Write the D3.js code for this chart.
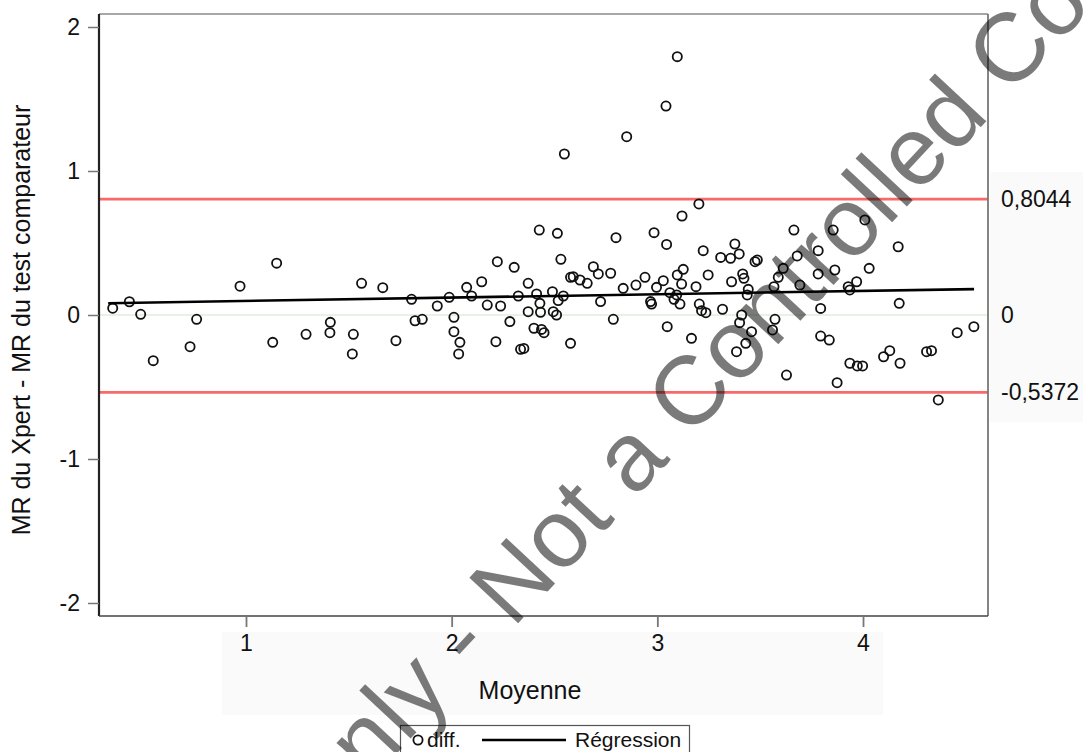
<!DOCTYPE html>
<html>
<head>
<meta charset="utf-8">
<script src="https://cdn.jsdelivr.net/npm/d3@7"></script>
<style>
  html, body { margin: 0; padding: 0; background: #fff; }
  svg { display: block; font-family: "Liberation Sans", Arial, sans-serif; }
</style>
</head>
<body>
<svg id="chart" width="1083" height="752"></svg>
<script>
// ---- Data ----
const meanVals = [
  0.352,0.433,0.488,0.549,0.728,0.760,0.971,1.13,1.149,1.292,
  1.41,1.408,1.522,1.517,1.562,1.665,1.729,
  1.805,1.822,1.857,1.93,1.988,2.011,2.011,2.040,2.034,2.073,
  2.097,2.146,2.173,2.238,2.215,2.283,2.324,2.372,2.372,2.413,
  2.429,2.432,2.40,2.437,2.449,2.335,2.351,2.49,2.518,2.543,
  2.494,2.51,2.578,2.724,2.786,2.834,2.896,2.967,2.972,2.996,
  3.048,3.094,3.097,3.042,2.851,2.548,2.426,2.514,2.799,2.984,
  3.045,3.12,2.531,2.222,2.304,2.578,2.591,2.624,2.659,2.689,
  2.713,2.773,2.94,3.029,3.097,
  3.202,3.664,3.855,4.009,4.171,3.223,3.308,3.356,3.377,3.398,
  3.475,3.486,3.68,3.782,3.126,3.118,3.188,3.247,3.361,3.415,
  3.421,3.442,3.437,3.567,3.588,3.612,3.693,3.782,3.863,4.03,
  3.928,3.936,3.969,3.061,3.081,3.11,3.204,3.215,3.236,3.317,
  3.41,3.40,3.572,3.794,4.176,3.56,3.166,3.458,3.43,3.385,
  3.628,3.794,3.836,3.874,3.936,3.972,3.998,4.10,4.13,4.18,
  4.309,4.333,4.366,4.458,4.539
];
const diffVals = [
  0.047,0.092,0.005,-0.317,-0.22,-0.03,0.20,-0.19,0.36,-0.134,
  -0.051,-0.123,-0.134,-0.27,0.22,0.19,-0.178,
  0.109,-0.04,-0.03,0.0625,0.123,-0.016,-0.116,-0.19,-0.27,0.192,
  0.132,0.231,0.069,0.0625,-0.185,-0.046,0.132,0.22,0.023,0.146,
  0.081,0.019,-0.092,-0.10,-0.123,-0.238,-0.232,0.162,0.10,0.132,
  0.023,0.0,-0.197,0.093,-0.03,0.185,0.208,0.093,0.076,0.192,
  -0.081,0.139,1.794,1.451,1.238,1.118,0.59,0.567,0.537,0.572,
  0.49,0.6875,0.387,0.37,0.331,0.262,0.266,0.243,0.22,0.335,
  0.285,0.29,0.262,0.238,0.278,
  0.771,0.59,0.59,0.66,0.474,0.447,0.40,0.394,0.493,0.424,
  0.37,0.382,0.41,0.447,0.317,0.215,0.197,0.278,0.231,0.285,
  0.255,0.178,0.139,0.197,0.262,0.324,0.208,0.285,0.3125,0.324,
  0.197,0.174,0.231,0.155,0.109,0.076,0.076,0.03,0.016,0.04,
  0.0,-0.053,-0.03,0.046,0.081,-0.104,-0.162,-0.116,-0.197,-0.255,
  -0.417,-0.146,-0.174,-0.47,-0.335,-0.354,-0.354,-0.29,-0.248,-0.335,
  -0.255,-0.248,-0.59,-0.123,-0.081
];
const regressionX = [0.33, 4.54];
const regressionY = [0.082, 0.18];
const limitValues = [0.8044, -0.5372];
const limitLabels = ["0,8044", "-0,5372"];
const zeroValue = [0];
const zeroLabel = ["0"];
const xTicks = [1, 2, 3, 4];
const yTicks = [2, 1, 0, -1, -2];
const xTitle = "Moyenne";
const yTitle = "MR du Xpert - MR du test comparateur";
const legendLabels = ["diff.", "Régression"];
const watermarkText = "Only - Not a Controlled Copy";

// ---- Layout ----
const svg = d3.select("#chart");
const L = 99, R = 988, T = 14, B = 616;
const x = d3.scaleLinear().domain([0.2853, 4.6077]).range([L, R]);
const y = d3.scaleLinear().domain([-2.0903, 2.0903]).range([B, T]);

// faint label backgrounds
svg.append("rect").attr("x", 222).attr("y", 632).attr("width", 661).attr("height", 83).attr("fill", "#fafafa");
svg.append("rect").attr("x", 990).attr("y", 172).attr("width", 93).attr("height", 250).attr("fill", "#fafafa");

// plot background
svg.append("rect").attr("x", L).attr("y", T).attr("width", R - L).attr("height", B - T).attr("fill", "#fff");

// zero reference line
svg.selectAll(".zero").data(zeroValue).enter().append("line")
  .attr("x1", L).attr("x2", R).attr("y1", d => y(d)).attr("y2", d => y(d))
  .attr("stroke", "#cfe6cf").attr("stroke-width", 1.2);

// limits of agreement
svg.selectAll(".limit").data(limitValues).enter().append("line")
  .attr("x1", L + 1).attr("x2", R).attr("y1", d => y(d)).attr("y2", d => y(d))
  .attr("stroke", "#f86a6a").attr("stroke-width", 2.6);

// points
const pts = meanVals.map((m, i) => ({ m, d: diffVals[i] }));
svg.append("g").selectAll("circle").data(pts).enter().append("circle")
  .attr("cx", p => x(p.m)).attr("cy", p => y(p.d)).attr("r", 4.6)
  .attr("fill", "none").attr("stroke", "#111").attr("stroke-width", 1.8);

// regression line
const reg = regressionX.map((v, i) => [v, regressionY[i]]);
svg.append("path").datum(reg)
  .attr("d", d3.line().x(p => x(p[0])).y(p => y(p[1])))
  .attr("stroke", "#000").attr("stroke-width", 2.6).attr("fill", "none");

// frame
svg.append("line").attr("x1", L).attr("x2", R).attr("y1", T).attr("y2", T).attr("stroke", "#8a8a8a").attr("stroke-width", 1.5);
svg.append("line").attr("x1", R).attr("x2", R).attr("y1", T).attr("y2", B).attr("stroke", "#777").attr("stroke-width", 1.8);

// axes
const yAxis = svg.append("g").attr("transform", `translate(${L},0)`)
  .call(d3.axisLeft(y).tickValues(yTicks).tickSize(11).tickPadding(8).tickFormat(d => String(d)));
yAxis.select(".domain").attr("stroke", "#222").attr("stroke-width", 2.2).attr("d", `M0,${T}V${B}`);
yAxis.selectAll(".tick line").attr("stroke", "#777").attr("stroke-width", 1.5);
yAxis.selectAll(".tick text").attr("font-size", 23).attr("fill", "#111")
  .attr("font-family", "Liberation Sans, Arial, sans-serif");

const xAxis = svg.append("g").attr("transform", `translate(0,${B})`)
  .call(d3.axisBottom(x).tickValues(xTicks).tickSize(11).tickPadding(8).tickFormat(d => String(d)));
xAxis.select(".domain").attr("stroke", "#444").attr("stroke-width", 1.6).attr("d", `M${L},0H${R}`);
xAxis.selectAll(".tick line").attr("stroke", "#777").attr("stroke-width", 1.8);
xAxis.selectAll(".tick text").attr("font-size", 23).attr("fill", "#111")
  .attr("font-family", "Liberation Sans, Arial, sans-serif");

// right-side labels
const rightVals = [limitValues[0], zeroValue[0], limitValues[1]];
const rightLabs = [limitLabels[0], zeroLabel[0], limitLabels[1]];
svg.selectAll(".rlab").data(rightVals).enter().append("text")
  .attr("x", 1001).attr("y", d => y(d)).attr("dy", "0.35em")
  .attr("font-size", 23).attr("fill", "#111")
  .text((d, i) => rightLabs[i]);

// titles
svg.append("text").attr("x", 530).attr("y", 699).attr("text-anchor", "middle")
  .attr("font-size", 25).attr("fill", "#111").text(xTitle);
svg.append("text").attr("transform", "translate(30,320) rotate(-90)").attr("text-anchor", "middle")
  .attr("font-size", 25).attr("fill", "#111").text(yTitle);

// legend
const lg = svg.append("g");
lg.append("rect").attr("x", 400.5).attr("y", 725.5).attr("width", 289).attr("height", 40)
  .attr("fill", "#fff").attr("stroke", "#555").attr("stroke-width", 1.2);
lg.append("circle").attr("cx", 418).attr("cy", 740).attr("r", 4.6).attr("fill", "none").attr("stroke", "#111").attr("stroke-width", 1.8);
lg.append("text").attr("x", 427).attr("y", 747).attr("font-size", 21).attr("fill", "#111").text(legendLabels[0]);
lg.append("line").attr("x1", 482).attr("x2", 566).attr("y1", 740).attr("y2", 740).attr("stroke", "#000").attr("stroke-width", 2.6);
lg.append("text").attr("x", 575).attr("y", 747).attr("font-size", 21).attr("fill", "#111").text(legendLabels[1]);

// watermark
svg.append("text").attr("transform", "translate(318,838) rotate(-47)")
  .attr("font-size", 97).attr("fill", "#000").attr("fill-opacity", 0.52)
  .text(watermarkText);
</script>
</body>
</html>
